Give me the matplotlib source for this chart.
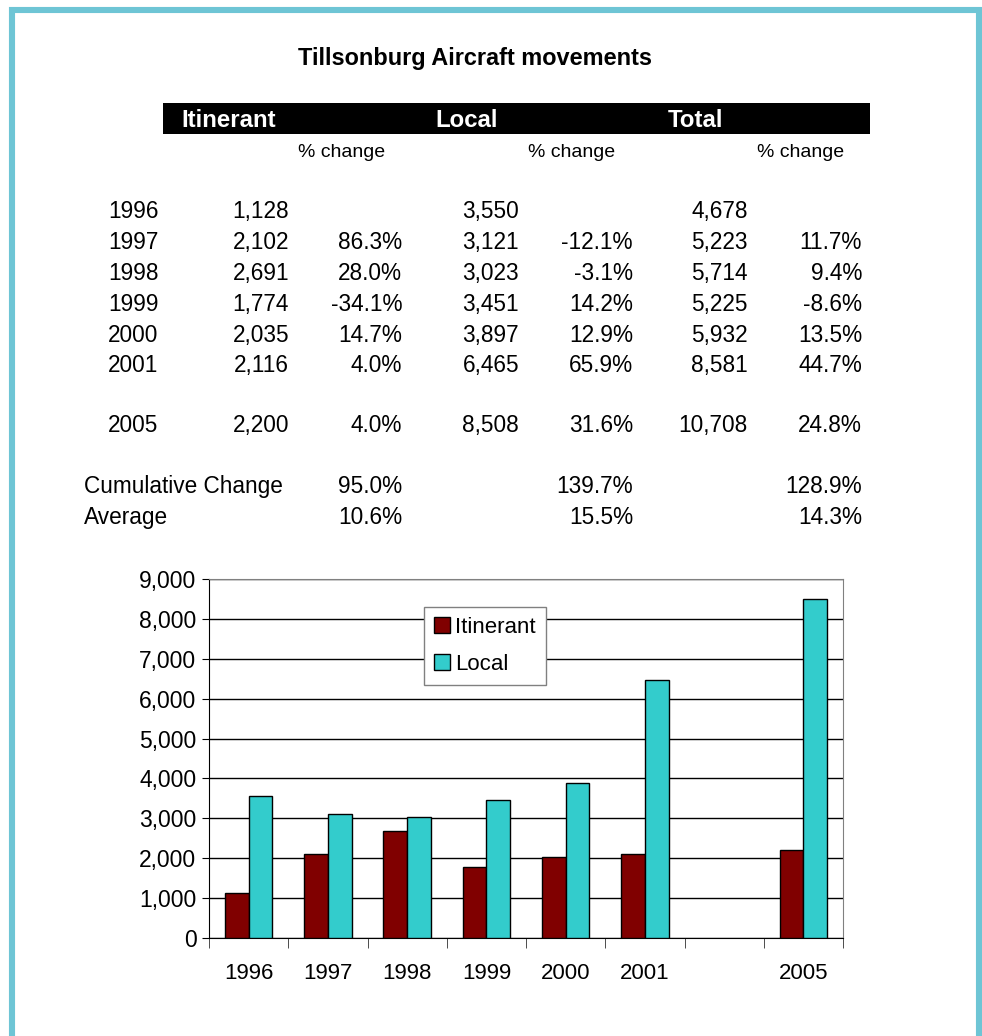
import matplotlib
matplotlib.use('Agg')
import matplotlib.pyplot as plt
from matplotlib.patches import Rectangle
from matplotlib.ticker import FuncFormatter
import numpy as np

plt.rcParams['font.family'] = ['Liberation Sans', 'DejaVu Sans']

# ---------------- data ----------------
years = ['1996', '1997', '1998', '1999', '2000', '2001', '2005']
itinerant = [1128, 2102, 2691, 1774, 2035, 2116, 2200]
local = [3550, 3121, 3023, 3451, 3897, 6465, 8508]
total = [4678, 5223, 5714, 5225, 5932, 8581, 10708]
itin_pct = [None, 86.3, 28.0, -34.1, 14.7, 4.0, 4.0]
local_pct = [None, -12.1, -3.1, 14.2, 12.9, 65.9, 31.6]
total_pct = [None, 11.7, 9.4, -8.6, 13.5, 44.7, 24.8]
cumulative_change = [95.0, 139.7, 128.9]
average_change = [10.6, 15.5, 14.3]

chart_categories = ['1996', '1997', '1998', '1999', '2000', '2001', '', '2005']
chart_itinerant = [1128, 2102, 2691, 1774, 2035, 2116, np.nan, 2200]
chart_local = [3550, 3121, 3023, 3451, 3897, 6465, np.nan, 8508]

# ---------------- figure ----------------
W, H = 982, 1036
fig = plt.figure(figsize=(W / 100, H / 100), dpi=100)
fig.patch.set_facecolor('white')

def fx(x):
    return x / W

def fy(y):
    return 1 - y / H

def T(x, y, s, ha='left', size=16.3, **kw):
    # y is the vertical centre of the capitals/digits (in pixels from the top)
    base = y + 0.358 * size * 100 / 72
    fig.text(fx(x), fy(base), s, ha=ha, va='baseline', fontsize=size, **kw)

# border frame
fig.add_artist(Rectangle((fx(12), fy(1060)), fx(978.5) - fx(12), fy(10) - fy(1060),
                         transform=fig.transFigure, fill=False,
                         edgecolor='#6EC5D5', linewidth=4.4))

# title
T(475, 57, 'Tillsonburg Aircraft movements', ha='center', size=16.9, fontweight='bold')

# header bar
fig.add_artist(Rectangle((fx(163), fy(134)), fx(870) - fx(163), fy(103) - fy(134),
                         transform=fig.transFigure, facecolor='black', edgecolor='none'))
T(181, 118, 'Itinerant', size=17.3, fontweight='bold', color='white')
T(435, 118, 'Local', size=17.3, fontweight='bold', color='white')
T(668, 118, 'Total', size=17.3, fontweight='bold', color='white')

for xc in (342, 572, 801):
    T(xc, 150, '% change', ha='center', size=14)

# table rows
row_y = [210, 241, 272, 303, 334, 364, 424]
col_year = 108
col_itin, col_itin_p = 289, 402
col_loc, col_loc_p = 519, 633
col_tot, col_tot_p = 748, 862

def pct(v):
    return '' if v is None else f'{v:.1f}%'

for i, yr in enumerate(years):
    y = row_y[i]
    T(col_year, y, yr)
    T(col_itin, y, f'{itinerant[i]:,}', ha='right')
    T(col_itin_p, y, pct(itin_pct[i]), ha='right')
    T(col_loc, y, f'{local[i]:,}', ha='right')
    T(col_loc_p, y, pct(local_pct[i]), ha='right')
    T(col_tot, y, f'{total[i]:,}', ha='right')
    T(col_tot_p, y, pct(total_pct[i]), ha='right')

T(84, 485, 'Cumulative Change')
T(84, 516, 'Average')
for xv, c, a in zip((col_itin_p, col_loc_p, col_tot_p), cumulative_change, average_change):
    T(xv, 485, pct(c), ha='right')
    T(xv, 516, pct(a), ha='right')

# ---------------- bar chart ----------------
ax = fig.add_axes([fx(209), fy(938), fx(843) - fx(209), fy(579) - fy(938)])
x = np.arange(len(chart_categories))
w = 0.3
ax.bar(x - w / 2, chart_itinerant, w, color='#800000', edgecolor='black', linewidth=1,
       label='Itinerant', zorder=3)
ax.bar(x + w / 2, chart_local, w, color='#33CCCC', edgecolor='black', linewidth=1,
       label='Local', zorder=3)

ax.set_xlim(-0.5, len(chart_categories) - 0.5)
ax.set_ylim(0, 9000)
ax.set_yticks(np.arange(0, 9001, 1000))
ax.yaxis.set_major_formatter(FuncFormatter(lambda v, p: f'{int(v):,}'))
ax.grid(axis='y', color='black', linewidth=1)
ax.set_axisbelow(True)

ax.set_xticks(x)
ax.set_xticklabels(chart_categories)
ax.set_xticks(np.arange(-0.5, len(chart_categories), 1), minor=True)
ax.tick_params(axis='x', which='major', length=0, pad=18, labelsize=16)
ax.tick_params(axis='x', which='minor', length=7, direction='out', color='#303030')
ax.tick_params(axis='y', which='major', length=5, direction='out', pad=4, labelsize=16.5)

for s in ('top', 'right'):
    ax.spines[s].set_color('#808080')
ax.spines['left'].set_color('black')
ax.spines['bottom'].set_color('black')

leg = ax.legend(loc='upper left', bbox_to_anchor=(fx(424), fy(607)),
                bbox_transform=fig.transFigure, fontsize=16,
                fancybox=False, framealpha=1, edgecolor='#808080',
                handlelength=0.7, handleheight=0.7, handletextpad=0.25,
                borderpad=0.45, labelspacing=0.7, borderaxespad=0)
leg.get_frame().set_linewidth(1)

fig.savefig('out.png', dpi=100)
